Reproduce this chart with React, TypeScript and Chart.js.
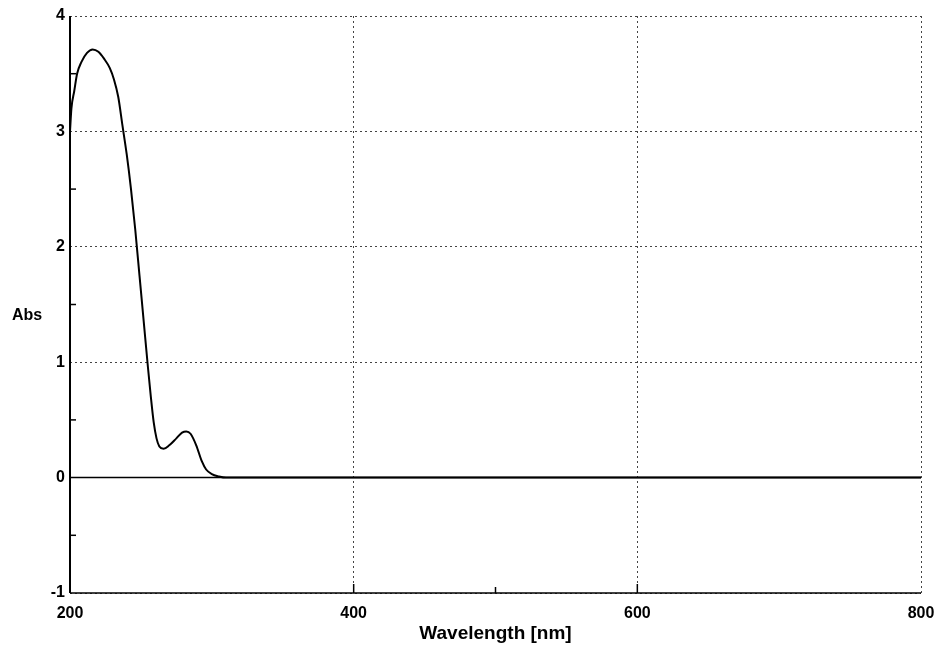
import React, { useEffect, useRef } from "react";
import { Chart, registerables } from "chart.js";

Chart.register(...registerables);

const wavelengths = [200, 201, 203, 205, 208, 212, 216, 220, 224, 228, 231, 234, 237, 240, 243, 246, 249, 252, 255, 257, 259, 261, 263, 266, 270, 275, 279, 282, 285, 289, 293, 296, 300, 305, 310, 400, 500, 600, 700, 800];
const absorbance = [3.0, 3.2, 3.35, 3.5, 3.6, 3.68, 3.71, 3.69, 3.63, 3.55, 3.45, 3.3, 3.05, 2.8, 2.5, 2.15, 1.75, 1.35, 0.95, 0.7, 0.48, 0.34, 0.27, 0.25, 0.28, 0.34, 0.39, 0.4, 0.38, 0.28, 0.14, 0.07, 0.03, 0.01, 0.0, 0.0, 0.0, 0.0, 0.0, 0.0];

const xTicks = [200, 400, 600, 800];
const yTicks = [-1, 0, 1, 2, 3, 4];
const xMinorTicks = [400, 500, 600];
const yMinorTicks = [-0.5, 0.5, 1.5, 2.5, 3.5];
const xTitle = "Wavelength [nm]";
const yTitle = "Abs";

const FONT = "'Liberation Sans', Arial, sans-serif";

const framePlugin = {
  id: "frame",
  afterDraw(chart: any) {
    const { ctx, chartArea, scales } = chart;
    const xs = scales.x;
    const ys = scales.y;
    ctx.save();
    ctx.strokeStyle = "#000";
    ctx.setLineDash([]);
    ctx.lineWidth = 2;
    ctx.beginPath();
    ctx.moveTo(chartArea.left, chartArea.top);
    ctx.lineTo(chartArea.left, chartArea.bottom);
    ctx.stroke();
    ctx.lineWidth = 1.5;
    ctx.beginPath();
    ctx.moveTo(chartArea.left, chartArea.bottom);
    ctx.lineTo(chartArea.right, chartArea.bottom);
    ctx.stroke();
    const y0 = ys.getPixelForValue(0);
    ctx.lineWidth = 1.5;
    ctx.beginPath();
    ctx.moveTo(chartArea.left, y0);
    ctx.lineTo(chartArea.right, y0);
    ctx.stroke();
    ctx.lineWidth = 1.5;
    yMinorTicks.forEach((v) => {
      const p = ys.getPixelForValue(v);
      ctx.beginPath();
      ctx.moveTo(chartArea.left, p);
      ctx.lineTo(chartArea.left + 6, p);
      ctx.stroke();
    });
    xMinorTicks.forEach((v) => {
      const p = xs.getPixelForValue(v);
      const len = v === 500 ? 6 : 9;
      ctx.beginPath();
      ctx.moveTo(p, chartArea.bottom);
      ctx.lineTo(p, chartArea.bottom - len);
      ctx.stroke();
    });
    ctx.fillStyle = "#000";
    ctx.font = `bold 16px ${FONT}`;
    ctx.textAlign = "center";
    ctx.textBaseline = "middle";
    ctx.fillText(yTitle, 27, 316);
    ctx.restore();
  },
};

export default function App() {
  const ref = useRef<HTMLCanvasElement>(null);
  useEffect(() => {
    document.body.style.margin = "0";
    const canvas = ref.current!;
    const chart = new Chart(canvas, {
      type: "line",
      data: {
        datasets: [
          {
            data: wavelengths.map((w, i) => ({ x: w, y: absorbance[i] })),
            borderColor: "#000",
            borderWidth: 2,
            pointRadius: 0,
            cubicInterpolationMode: "monotone",
            fill: false,
          },
        ],
      },
      options: {
        responsive: false,
        animation: false,
        devicePixelRatio: 1,
        layout: { padding: { top: 16, right: 18, left: 0, bottom: 0 } },
        plugins: { legend: { display: false }, tooltip: { enabled: false } },
        scales: {
          x: {
            type: "linear",
            min: 200,
            max: 800,
            afterBuildTicks: (s: any) => {
              s.ticks = xTicks.map((v) => ({ value: v }));
            },
            afterFit: (s: any) => {
              s.height = 54;
              s.paddingLeft = 0;
              s.paddingRight = 0;
            },
            ticks: {
              color: "#000",
              font: { family: FONT, size: 16, weight: "bold" },
              padding: 11,
              maxRotation: 0,
              autoSkip: false,
            },
            grid: { color: "#444", lineWidth: 1, drawTicks: false },
            border: { display: false, dash: [2, 3] },
            title: {
              display: true,
              text: xTitle,
              color: "#000",
              font: { family: FONT, size: 19, weight: "bold" },
              padding: { top: 0, bottom: 2 },
            },
          },
          y: {
            type: "linear",
            min: -1,
            max: 4,
            afterBuildTicks: (s: any) => {
              s.ticks = yTicks.map((v) => ({ value: v }));
            },
            afterFit: (s: any) => {
              s.width = 70;
              s.paddingTop = 0;
              s.paddingBottom = 0;
            },
            ticks: {
              color: "#000",
              font: { family: FONT, size: 16, weight: "bold" },
              padding: 5,
              autoSkip: false,
            },
            grid: { color: "#444", lineWidth: 1, drawTicks: false },
            border: { display: false, dash: [2, 3] },
          },
        },
      },
      plugins: [framePlugin],
    } as any);
    return () => chart.destroy();
  }, []);
  return (
    <div style={{ position: "absolute", left: 0, top: 0, width: 939, height: 647, background: "#fff" }}>
      <canvas ref={ref} width={939} height={647} style={{ display: "block" }} />
    </div>
  );
}
